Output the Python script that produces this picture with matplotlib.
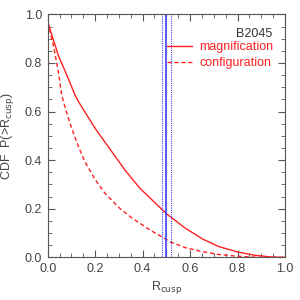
import numpy as np
import matplotlib.pyplot as plt
from matplotlib.ticker import MultipleLocator

# Data
r_mag = [0.0, 0.045, 0.087, 0.115, 0.129, 0.2, 0.235, 0.326, 0.389, 0.5, 0.516,
         0.58, 0.656, 0.72, 0.797, 0.87, 0.938, 1.0]
p_mag = [0.968, 0.831, 0.735, 0.668, 0.642, 0.531, 0.483, 0.359, 0.284, 0.180, 0.168,
         0.120, 0.074, 0.045, 0.023, 0.009, 0.002, 0.0]
r_conf = [0.0, 0.024, 0.045, 0.059, 0.08, 0.101, 0.13, 0.157, 0.2, 0.242, 0.3, 0.354,
          0.432, 0.5, 0.516, 0.58, 0.656, 0.72, 0.797, 0.85, 0.9, 1.0]
p_conf = [0.968, 0.872, 0.763, 0.668, 0.595, 0.531, 0.455, 0.393, 0.320, 0.263, 0.205, 0.163,
          0.112, 0.074, 0.064, 0.040, 0.023, 0.012, 0.005, 0.002, 0.0, 0.0]
r_obs = 0.50
r_obs_err = [0.48, 0.52]

plt.rcParams['font.family'] = ['Liberation Sans', 'DejaVu Sans']

fig = plt.figure(figsize=(3, 3), dpi=100)
ax = fig.add_axes([0.159, 0.142, 0.791, 0.81])

ax.plot(r_mag, p_mag, color='#ff2020', lw=1.0, label='magnification')
ax.plot(r_conf, p_conf, color='#ff2020', lw=1.0, ls=(0, (3, 2)), label='configuration')
ax.axvline(r_obs, color='#4040ff', lw=1.2)
for r in r_obs_err:
    ax.axvline(r, color='#4040ff', lw=0.8, ls=(0, (1, 1)))

ax.set_xlim(0, 1)
ax.set_ylim(0, 1)
ax.xaxis.set_major_locator(MultipleLocator(0.2))
ax.yaxis.set_major_locator(MultipleLocator(0.2))
ax.xaxis.set_minor_locator(MultipleLocator(0.05))
ax.yaxis.set_minor_locator(MultipleLocator(0.05))
ax.tick_params(which='both', direction='in', top=True, right=True, color='#555555',
               labelsize=9, labelcolor='#444444')
ax.tick_params(which='major', length=5, pad=4)
ax.tick_params(which='minor', length=3)
for s in ax.spines.values():
    s.set_color('#555555')

ax.set_xlabel(r'R$_{\rm cusp}$', fontsize=9, color='#444444')
ax.set_ylabel(r'CDF  P(>R$_{\rm cusp}$)', fontsize=9, color='#444444')
ax.yaxis.set_label_coords(-0.135, 0.5)
ax.xaxis.set_label_coords(0.5, -0.09)

ax.text(0.945, 0.92, 'B2045', transform=ax.transAxes, ha='right', va='center',
        fontsize=9, color='#333333')
leg = ax.legend(loc='upper right', bbox_to_anchor=(0.95, 0.89), frameon=False, fontsize=9,
                labelcolor='#ff2020', handlelength=2.0, handletextpad=0.6, labelspacing=0.3,
                borderaxespad=0, borderpad=0)

fig.savefig('out.png', dpi=100)
